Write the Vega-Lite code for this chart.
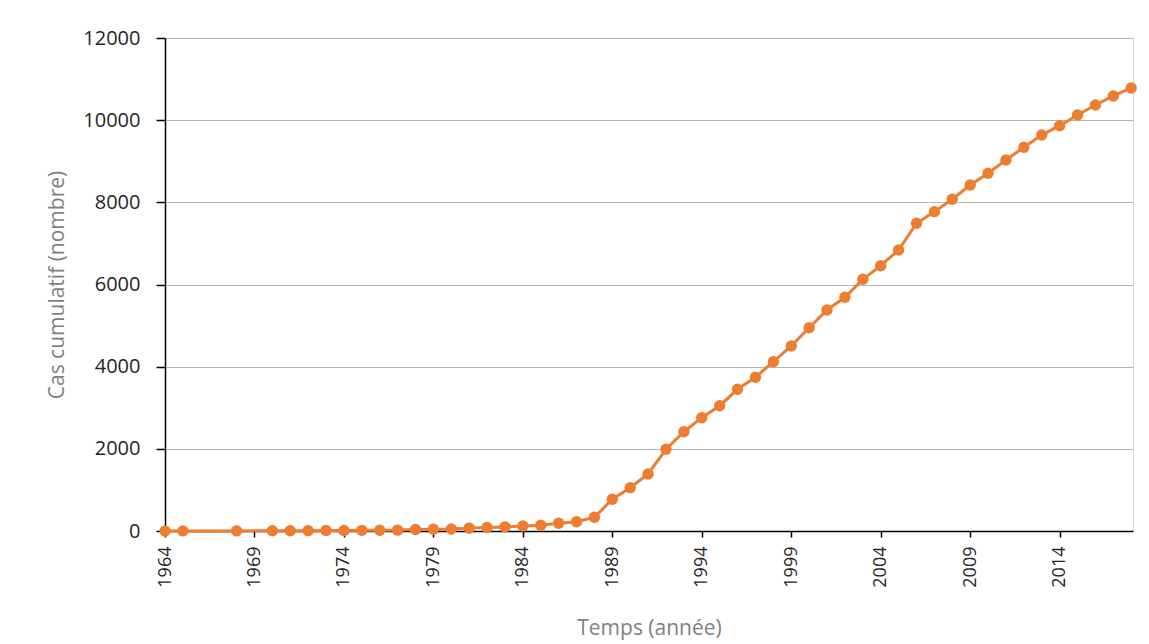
{
  "$schema": "https://vega.github.io/schema/vega-lite/v6.json",
  "width": 968,
  "height": 493,
  "autosize": "none",
  "padding": {"left": 165, "top": 38, "right": 16, "bottom": 113},
  "background": "white",
  "config": {
    "view": {"stroke": "#d9d9d9", "strokeWidth": 1},
    "font": "Open Sans"
  },
  "data": {
    "values": [
      {"annee": 1964, "cas": 1},
      {"annee": 1965, "cas": 2},
      {"annee": 1968, "cas": 3},
      {"annee": 1970, "cas": 5},
      {"annee": 1971, "cas": 7},
      {"annee": 1972, "cas": 9},
      {"annee": 1973, "cas": 11},
      {"annee": 1974, "cas": 13},
      {"annee": 1975, "cas": 16},
      {"annee": 1976, "cas": 19},
      {"annee": 1977, "cas": 22},
      {"annee": 1978, "cas": 35},
      {"annee": 1979, "cas": 42},
      {"annee": 1980, "cas": 50},
      {"annee": 1981, "cas": 70},
      {"annee": 1982, "cas": 85},
      {"annee": 1983, "cas": 100},
      {"annee": 1984, "cas": 120},
      {"annee": 1985, "cas": 140},
      {"annee": 1986, "cas": 187},
      {"annee": 1987, "cas": 226},
      {"annee": 1988, "cas": 333},
      {"annee": 1989, "cas": 772},
      {"annee": 1990, "cas": 1055},
      {"annee": 1991, "cas": 1388},
      {"annee": 1992, "cas": 1989},
      {"annee": 1993, "cas": 2417},
      {"annee": 1994, "cas": 2758},
      {"annee": 1995, "cas": 3050},
      {"annee": 1996, "cas": 3449},
      {"annee": 1997, "cas": 3741},
      {"annee": 1998, "cas": 4121},
      {"annee": 1999, "cas": 4503},
      {"annee": 2000, "cas": 4949},
      {"annee": 2001, "cas": 5380},
      {"annee": 2002, "cas": 5689},
      {"annee": 2003, "cas": 6127},
      {"annee": 2004, "cas": 6458},
      {"annee": 2005, "cas": 6840},
      {"annee": 2006, "cas": 7490},
      {"annee": 2007, "cas": 7773},
      {"annee": 2008, "cas": 8074},
      {"annee": 2009, "cas": 8422},
      {"annee": 2010, "cas": 8707},
      {"annee": 2011, "cas": 9031},
      {"annee": 2012, "cas": 9340},
      {"annee": 2013, "cas": 9640},
      {"annee": 2014, "cas": 9866},
      {"annee": 2015, "cas": 10127},
      {"annee": 2016, "cas": 10370},
      {"annee": 2017, "cas": 10590},
      {"annee": 2018, "cas": 10784}
    ]
  },
  "encoding": {
    "x": {
      "field": "annee",
      "type": "quantitative",
      "scale": {"domain": [1964, 2018.1], "nice": false, "zero": false},
      "axis": {
        "title": "Temps (année)",
        "values": [1964, 1969, 1974, 1979, 1984, 1989, 1994, 1999, 2004, 2009, 2014],
        "format": "d",
        "labelAngle": 270,
        "labelFontSize": 18,
        "labelColor": "#262626",
        "labelPadding": 9,
        "grid": false,
        "domainColor": "#000000",
        "domainWidth": 1.5,
        "tickColor": "#000000",
        "tickSize": 6,
        "tickWidth": 1.5,
        "titleFontSize": 21,
        "titleFontWeight": "normal",
        "titleColor": "#7f7f7f",
        "titlePadding": 30
      }
    },
    "y": {
      "field": "cas",
      "type": "quantitative",
      "scale": {"domain": [0, 12000], "nice": false},
      "axis": {
        "title": "Cas cumulatif (nombre)",
        "values": [0, 2000, 4000, 6000, 8000, 10000, 12000],
        "format": "d",
        "labelFontSize": 20,
        "labelColor": "#262626",
        "labelPadding": 16,
        "grid": true,
        "gridColor": "#b4b4b4",
        "gridWidth": 1,
        "domainColor": "#000000",
        "domainWidth": 1.5,
        "tickColor": "#000000",
        "tickSize": 9,
        "tickWidth": 1.5,
        "titleFontSize": 21,
        "titleFontWeight": "normal",
        "titleColor": "#7f7f7f",
        "titlePadding": 15
      }
    }
  },
  "layer": [
    {
      "mark": {"type": "line", "color": "#ed7d31", "strokeWidth": 3}
    },
    {
      "mark": {"type": "point", "filled": true, "color": "#ed7d31", "opacity": 1, "size": 130}
    }
  ]
}
